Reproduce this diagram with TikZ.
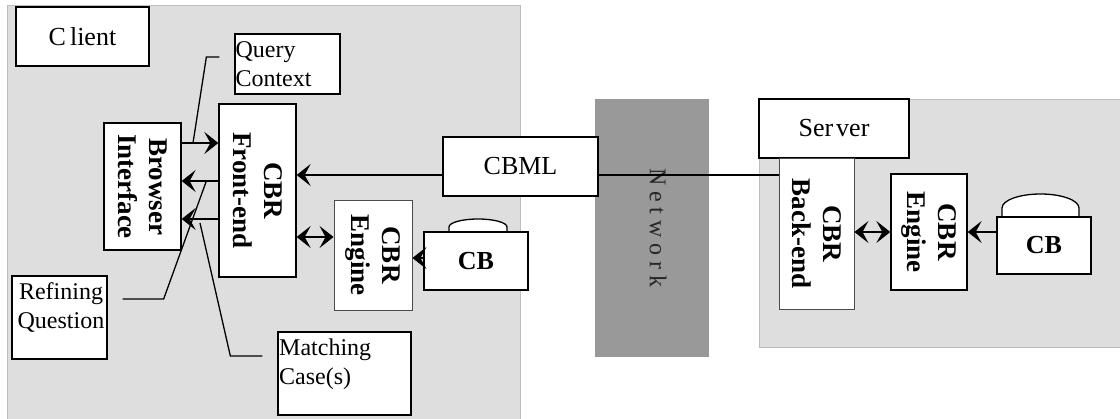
\documentclass[tikz,border=0pt]{standalone}
\usepackage{fontspec}
\setmainfont{Liberation Serif}
\usetikzlibrary{arrows.meta}
\definecolor{regiongray}{gray}{0.87}
\definecolor{edgegray}{gray}{0.74}
\definecolor{netgray}{gray}{0.6}

\begin{document}
\begin{tikzpicture}[x=1pt,y=-1pt,
		box/.style={draw,fill=white,line width=1.3pt,inner sep=0pt},
		thinbox/.style={draw=black!70,fill=white,line width=0.9pt,inner sep=0pt},
		lbl/.style={font=\fontsize{24}{29}\selectfont,inner sep=0pt},
		biglbl/.style={font=\fontsize{26}{30}\selectfont},
		blbl/.style={font=\fontsize{27}{31}\selectfont\bfseries,align=center,rotate=-90},
		arr/.style={line width=1.3pt,-{Stealth[length=14pt,width=22pt,inset=6pt]}},
		darr/.style={line width=1.3pt,{Stealth[length=14pt,width=22pt,inset=6pt]}-{Stealth[length=14pt,width=22pt,inset=6pt]}},
		callout/.style={line width=1.3pt}]
					\useasboundingbox (0,0) rectangle (1120,418);
					\clip (0,0) rectangle (1120,418);
					\fill[white] (0,0) rectangle (1120,418);
					\draw[edgegray,fill=regiongray,line width=1pt] (7,5) rectangle (520,430);
					\draw[edgegray,fill=regiongray,line width=1pt] (759,99) rectangle (1130,347);
					\fill[netgray] (595,99) rectangle (709,357);
					\node[rotate=-90,font=\fontsize{24}{28}\selectfont,text=black!85] (net) at (658,228) {N e t w o r k};

					\coordinate (y-q) at (0,143);
					\coordinate (y-r) at (0,181);
					\coordinate (y-m) at (0,219);
					\coordinate (y-ml) at (0,175);
					\coordinate (y-e1) at (0,237);
					\coordinate (y-cb1) at (0,258);

					% client side
					\node[box,biglbl,minimum width=133pt,minimum height=59pt] (client) at (82.5,36.5) {C\hspace{4pt}lient};
					\node[box,minimum width=105pt,minimum height=60pt] (qc) at (287.5,64) {};
					\node[lbl,anchor=west,align=left] (qc-t) at ([xshift=1pt]qc.west) {Query\\Context};
					\node[box,minimum width=77pt,minimum height=127pt] (bi) at (142.5,186.5) {};
					\node[blbl] (bi-t) at (bi) {Browser\\Interface};
					\node[box,minimum width=77pt,minimum height=173pt] (fe) at (257.5,190.5) {};
					\node[blbl] (fe-t) at (fe) {CBR\\Front-end};
					\node[thinbox,minimum width=78pt,minimum height=110pt] (ce1) at (373,255) {};
					\node[blbl] (ce1-t) at (ce1) {CBR\\Engine};
					\node[box,minimum width=95pt,minimum height=83pt] (rq) at (59.5,317.5) {};
					\node[lbl,anchor=north,align=center] (rq-t) at (61,282) {Refining\\Question};
					\node[box,minimum width=133pt,minimum height=83pt] (mc) at (344.5,373.5) {};
					\node[lbl,anchor=north west,align=left] (mc-t) at (279,339) {Matching\\Case(s)};
					\draw[box] (449,233) -- (449,227) arc[start angle=180,end angle=0,x radius=29pt,y radius=8pt] -- (507,233);
					\node[box,minimum width=104pt,minimum height=58pt,font=\fontsize{26}{30}\selectfont\bfseries] (cb1) at (476,261) {CB};

					% middle
					\node[box,biglbl,minimum width=155pt,minimum height=59pt] (cbml) at (520.5,166.5) {CBML};

					% server side
					\node[box,biglbl,minimum width=150pt,minimum height=59pt] (srv) at (834,128.5) {Ser\hspace{3pt}ver};
					\node[thinbox,minimum width=75pt,minimum height=151pt] (be) at (816.5,233.5) {};
					\node[blbl] (be-t) at (be) {CBR\\Back-end};
					\node[box,minimum width=76pt,minimum height=116pt] (ce2) at (929,232) {};
					\node[blbl] (ce2-t) at (ce2) {CBR\\Engine};
					\draw[box] (1002,218) -- (1002,208) arc[start angle=180,end angle=0,x radius=38.5pt,y radius=14pt] -- (1079,218);
					\node[box,minimum width=94pt,minimum height=57pt,font=\fontsize{26}{30}\selectfont\bfseries] (cb2) at (1044,245.5) {CB};

					% connectors
					\draw[arr] (bi.east |- y-q) -- (fe.west |- y-q);
					\draw[arr] (fe.west |- y-r) -- (bi.east |- y-r);
					\draw[arr] (fe.west |- y-m) -- (bi.east |- y-m);
					\draw[arr] (cbml.west |- y-ml) -- (fe.east |- y-ml);
					\draw[callout] (cbml.east |- y-ml) -- (be.west |- y-ml);
					\draw[darr] (fe.east |- y-e1) -- (ce1.west |- y-e1);
					\draw[arr] (cb1.west |- y-cb1) -- (ce1.east |- y-cb1);
					\draw[darr] (be.east |- ce2) -- (ce2.west);
					\draw[arr] (cb2.west |- ce2) -- (ce2.east);

					\coordinate (q-end) at (193,143);
					\coordinate (r-end) at (206,182);
					\coordinate (m-end) at (200,223);
					\draw[callout] ([shift={(-15,-7)}]qc.west) -- ++(-13,0) -- (q-end);
					\draw[callout] ([shift={(15,-18.5)}]rq.east) -- ++(41,0) -- (r-end);
					\draw[callout] ([shift={(-15,-17.5)}]mc.west) -- ++(-32,0) -- (m-end);
				\end{tikzpicture}
\end{document}
